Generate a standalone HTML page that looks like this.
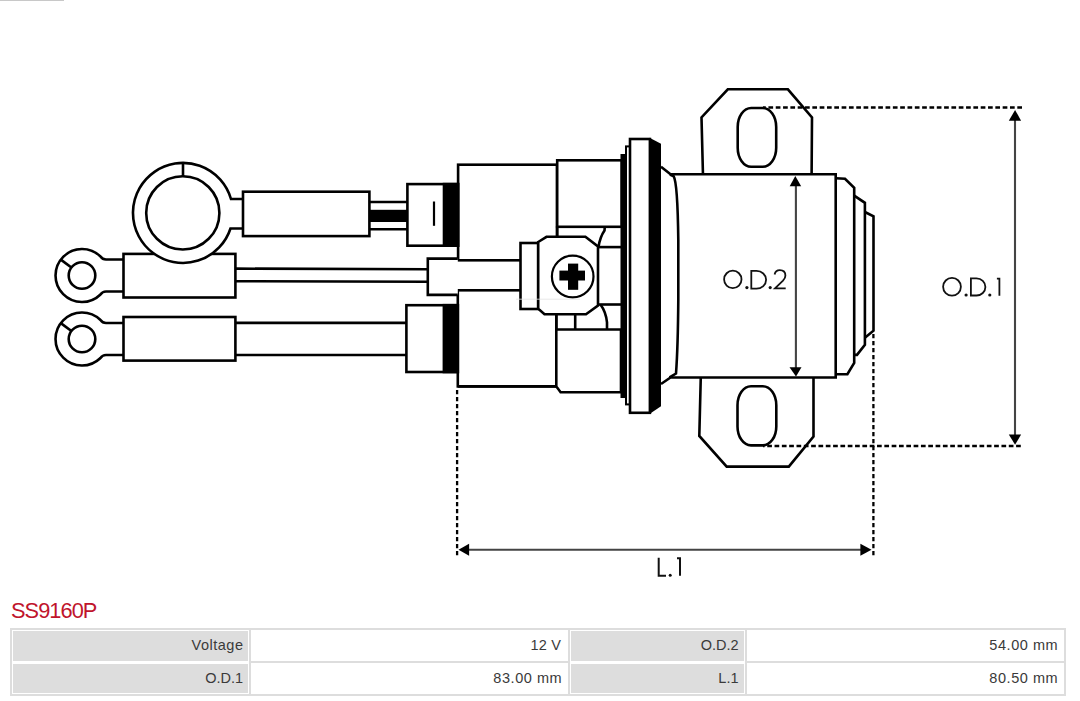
<!DOCTYPE html>
<html><head><meta charset="utf-8">
<style>
html,body{margin:0;padding:0;background:#fff;}
body{width:1080px;height:701px;position:relative;overflow:hidden;font-family:"Liberation Sans",sans-serif;}
#drw{position:absolute;left:0;top:0;}
.a{position:absolute;}
.g{background:#dddddd;}
.w{background:#fff;}
.t{position:absolute;color:#3a3a3a;font-size:14.5px;letter-spacing:0.15px;line-height:16px;text-align:right;white-space:nowrap;}
#title{position:absolute;left:11px;top:597.5px;color:#c0142c;font-size:21.8px;letter-spacing:-0.95px;line-height:26px;white-space:nowrap;}
#topline{position:absolute;left:0;top:0;width:64px;height:1px;background:#c8c8c8;}
</style></head>
<body>
<div id="topline"></div>
<svg id="drw" width="1080" height="600" viewBox="0 0 1080 600">
<g fill="#fff" stroke="#000" stroke-width="2.6" stroke-linejoin="miter">
  <!-- wires -->
  <line x1="369" y1="202" x2="408" y2="202"/>
  <line x1="369" y1="229.3" x2="408" y2="229.3"/>
  <rect x="370" y="209.8" width="37" height="12.2" fill="#000" stroke="none"/>
  <line x1="235" y1="268.6" x2="428" y2="269.3"/>
  <line x1="235" y1="281.2" x2="428" y2="281.7"/>
  <line x1="235" y1="322.9" x2="407" y2="322.9"/>
  <line x1="235" y1="355" x2="407" y2="355"/>
  <!-- small rings -->
  <path d="M123.5,259.5 L106,259.5 Q102.5,259.5 100.5,256.5 A26.5,26.5 0 1 0 100.5,294.5 Q102.5,291.5 106,291.5 L123.5,291.5"/>
  <circle cx="82" cy="275.5" r="13.3"/>
  <line x1="60.8" y1="259.6" x2="71.4" y2="267.5"/>
  <path d="M123.5,323 L106,323 Q102.5,323 100.5,320 A26.5,26.5 0 1 0 100.5,358 Q102.5,355 106,355 L123.5,355"/>
  <circle cx="82" cy="339" r="13.3"/>
  <line x1="60.8" y1="323.1" x2="71.4" y2="331"/>
  <!-- terminal rects -->
  <rect x="123.5" y="253.9" width="111.9" height="43.6"/>
  <rect x="123.5" y="317" width="111.9" height="43.6"/>
  <!-- big ring -->
  <path d="M243,199 L231,199 A50,50 0 1 0 230.5,228.5 L243,228.5"/>
  <circle cx="182.8" cy="212.9" r="36.6"/>
  <line x1="183" y1="163.5" x2="183" y2="176.5"/>
  <rect x="243" y="191.7" width="126.4" height="44.4"/>
  <!-- connectors & blocks -->
  <rect x="458.1" y="164.7" width="98.9" height="95.6"/>
  <rect x="457.8" y="290.3" width="98.5" height="96.1"/>
  <rect x="407.4" y="184.1" width="50.6" height="61.6"/>
  <rect x="444" y="184.1" width="14" height="61.6" fill="#000"/>
  <line x1="434" y1="201.5" x2="434" y2="225.8" stroke-width="2.2"/>
  <path d="M457.8,258.6 L427.8,258.6 L427.8,294.9 L457.8,294.9"/>
  <rect x="406.4" y="305.2" width="51.4" height="66.8"/>
  <rect x="443.9" y="305.2" width="13.9" height="66.8" fill="#000"/>
  <!-- block2 upper -->
  <rect x="557.2" y="160.3" width="64.6" height="66.5"/>
  <line x1="557.2" y1="226" x2="557.2" y2="238"/>
  <path d="M604.8,226.8 L604.5,230.5 Q600,237 598.5,247" fill="none"/>
  <line x1="598" y1="247.1" x2="621" y2="247.1"/>
  <line x1="598" y1="304.5" x2="621" y2="304.5"/>
  <path d="M600.5,304.5 Q606,312 607,322.4 L607,330" fill="none"/>
  <!-- block2 lower -->
  <path d="M556.3,313 L556.3,386.4 L560.6,392.3 L621,392.3 L621,329.5 L556.3,329.5"/>
  <line x1="575.2" y1="313" x2="575.2" y2="329.5"/>
  <line x1="457.8" y1="386.4" x2="557" y2="386.4"/>
  <!-- washer & nut -->
  <rect x="520.5" y="243" width="17.7" height="66"/>
  <polygon points="538.2,242 546.5,236.8 585.4,236.8 598,246.5 598,305.5 586,314.2 544.5,314.2 538.2,308.6"/>
  <circle cx="572.7" cy="276.5" r="20.8" stroke-width="2.2"/>
  <rect x="559.4" y="270.6" width="25.6" height="9.9" fill="#000" stroke="none"/>
  <rect x="568" y="263.6" width="10.2" height="26.2" fill="#000" stroke="none"/>
  <line x1="516" y1="299.2" x2="580" y2="299.2" stroke="#e2e2e2" stroke-width="0.8"/>
  <!-- flange -->
  <rect x="620.5" y="154" width="6" height="244" fill="#000" stroke="none"/>
  <rect x="626" y="146.4" width="4" height="258" stroke-width="2"/>
  <rect x="630" y="139" width="19.9" height="273.8"/>
  <polygon points="649.5,137.7 661,143.8 661,406.3 649.5,414.1" fill="#000" stroke="none"/>
  <!-- ears -->
  <path d="M703,176 L701.5,117.4 L727.8,89.3 L787.9,89.3 L812,117.4 L811.6,176"/>
  <rect x="737.7" y="108" width="38.5" height="58.7" rx="13.5" ry="19"/>
  <path d="M700.8,376 L699.3,435.9 L726.7,466.6 L788.8,466.6 L813.5,436.6 L813.5,376"/>
  <rect x="737.5" y="386.2" width="38.8" height="59.2" rx="13.5" ry="19"/>
  <!-- body -->
  <path d="M661,166.8 L670.5,174.3 L835.7,174.3 L835.7,377.5 L670.5,377.5 L661,384"/>
  <path d="M670,174.5 L673.7,176.3 C676.5,181 677.8,200 678.3,240 L678.3,300 C678,340 677,360 676,373.5 L669.5,377.3" fill="none"/>
  <path fill="none" d="M835.7,178.3 L845,178.8 L854.2,187.8 L854.2,362.8 L847.4,374.2 L835.7,374.2"/>
  <path fill="none" d="M854.2,195.7 L864.9,202.8 L864.9,344.9 L857,354.9 L854.2,354.9"/>
  <path fill="none" d="M864.9,212 L873.5,216.3 L873.5,330.7 L864.9,337.8"/>
</g>
<!-- dimensions -->
<g fill="none" stroke="#000" stroke-width="2.3" stroke-dasharray="4.7 2.62">
  <line x1="1022" y1="107.5" x2="763" y2="107.5"/>
  <line x1="1020.8" y1="446" x2="763" y2="446"/>
  <line x1="457.1" y1="555.3" x2="457.1" y2="389" stroke-dasharray="4.4 2.6"/>
  <line x1="873.4" y1="555.3" x2="873.4" y2="332" stroke-dasharray="4.4 2.6"/>
</g>
<g stroke="#444" stroke-width="2.1" fill="none">
  <line x1="795.9" y1="182" x2="795.9" y2="370"/>
  <line x1="1015" y1="116" x2="1015" y2="439"/>
  <line x1="465" y1="549.7" x2="865" y2="549.7"/>
</g>
<g fill="#000" stroke="none">
  <polygon points="795.3,176 789.7,186.2 801.2,186.2"/>
  <polygon points="796,376.5 789.5,367.3 801.5,367.3"/>
  <polygon points="1015.1,110 1008.8,120.7 1021.1,120.7"/>
  <polygon points="1015.1,444.7 1008.8,434.4 1021.1,434.4"/>
  <polygon points="458.5,549.7 469.1,543.7 469.1,555.7"/>
  <polygon points="871.5,549.7 860.4,543.7 860.4,555.7"/>
</g>
<!-- labels -->
<g fill="none" stroke="#111" stroke-width="1.8" stroke-linecap="butt">
  <circle cx="732.8" cy="279.4" r="8.7"/>
  <path d="M751.3,270.9 L756.5,270.9 A9.6,8.9 0 0 1 756.5,288.7 L751.3,288.7 Z"/>
  <path d="M774.6,274.5 Q775.5,270.2 779.8,270.2 Q785.4,270.2 785.4,275.7 Q785.4,278 783,280.7 L775,288.3 L785.7,288.3"/>
  <circle cx="952" cy="286.8" r="8.9"/>
  <path d="M970.9,278.3 L976.5,278.3 A8.9,8.6 0 0 1 976.5,295.5 L970.9,295.5 Z"/>
  <path d="M996.9,278.6 L999.4,278.6 L999.4,295.7"/>
  <path d="M658.7,557.7 L658.7,575.7 L666,575.7" stroke-width="2"/>
  <path d="M677,558.2 L680,558.2 L680,575.7" stroke-width="2"/>
</g>
<g fill="#111">
  <circle cx="746.9" cy="287.6" r="1.6"/>
  <circle cx="770.2" cy="287.6" r="1.6"/>
  <circle cx="966.1" cy="295" r="1.6"/>
  <circle cx="989.8" cy="295" r="1.6"/>
  <circle cx="670.2" cy="575.2" r="1.5"/>
</g>
</svg>

<div id="title">SS9160P</div>

<!-- table -->
<div class="a g" style="left:10px;top:628px;width:1056px;height:68px;"></div>
<div class="a w" style="left:12px;top:630px;width:237px;height:64px;"></div>
<div class="a g" style="left:13px;top:631px;width:235px;height:30px;"></div>
<div class="a g" style="left:13px;top:664px;width:235px;height:29px;"></div>
<div class="a w" style="left:251px;top:630px;width:317px;height:31px;"></div>
<div class="a w" style="left:251px;top:663px;width:317px;height:31px;"></div>
<div class="a w" style="left:570px;top:630px;width:175px;height:64px;"></div>
<div class="a g" style="left:571px;top:631px;width:173px;height:30px;"></div>
<div class="a g" style="left:571px;top:664px;width:173px;height:29px;"></div>
<div class="a w" style="left:747px;top:630px;width:317px;height:31px;"></div>
<div class="a w" style="left:747px;top:663px;width:317px;height:31px;"></div>

<div class="t" style="right:836.5px;top:637px;letter-spacing:0.5px;">Voltage</div>
<div class="t" style="right:519px;top:637px;">12 V</div>
<div class="t" style="right:341.5px;top:637px;letter-spacing:0;">O.D.2</div>
<div class="t" style="right:21.8px;top:637px;letter-spacing:0.55px;">54.00 mm</div>
<div class="t" style="right:837px;top:670px;letter-spacing:0;">O.D.1</div>
<div class="t" style="right:517.8px;top:670px;letter-spacing:0.55px;">83.00 mm</div>
<div class="t" style="right:341.5px;top:670px;letter-spacing:0;">L.1</div>
<div class="t" style="right:21.8px;top:670px;letter-spacing:0.55px;">80.50 mm</div>
</body></html>
